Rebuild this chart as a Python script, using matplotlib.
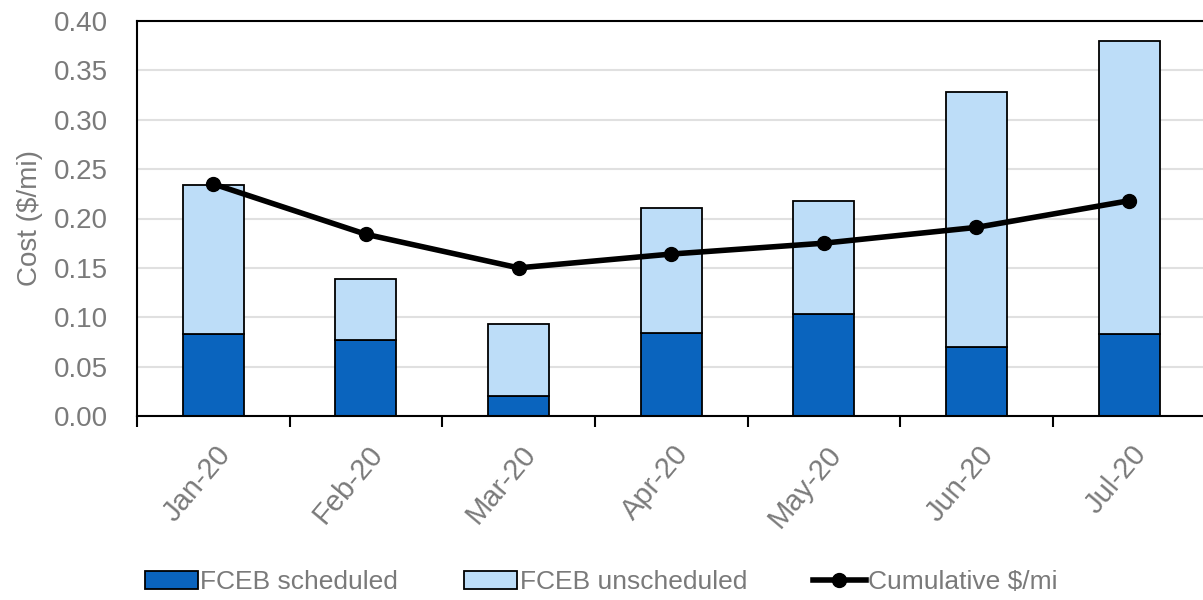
import matplotlib.pyplot as plt
import matplotlib.transforms as mtransforms
import numpy as np

plt.rcParams['font.family'] = ['Liberation Sans', 'DejaVu Sans']

# data
months = ['Jan-20', 'Feb-20', 'Mar-20', 'Apr-20', 'May-20', 'Jun-20', 'Jul-20']
scheduled = [0.083, 0.077, 0.020, 0.084, 0.103, 0.070, 0.083]
total = [0.234, 0.139, 0.093, 0.211, 0.218, 0.328, 0.380]
cumulative = [0.235, 0.184, 0.150, 0.164, 0.175, 0.191, 0.218]

unscheduled = [t - s for t, s in zip(total, scheduled)]
x = np.arange(len(months))
grey = '#7a7a7a'

fig = plt.figure(figsize=(12.03, 6), dpi=100)
ax = fig.add_axes([137 / 1203, 184 / 600, 1 - 137 / 1203 + 0.002, 395 / 600])

b1 = ax.bar(x, scheduled, width=0.4, color='#0A64BE', edgecolor='black', linewidth=1.3,
            label='FCEB scheduled', zorder=2)
b2 = ax.bar(x, unscheduled, width=0.4, bottom=scheduled, color='#BDDDF8', edgecolor='black',
            linewidth=1.3, label='FCEB unscheduled', zorder=2)
ln, = ax.plot(x, cumulative, color='black', linewidth=4, marker='o', markersize=10,
              label='Cumulative $/mi', zorder=3)

ax.set_xlim(-0.5, len(months) - 0.5)
ax.set_ylim(0, 0.40)
ax.set_yticks(np.arange(0, 0.401, 0.05))
ax.set_yticklabels([f'{v:.2f}' for v in np.arange(0, 0.401, 0.05)])
ax.yaxis.grid(True, color='#e0e0e0', linewidth=1.5, zorder=0)
ax.set_axisbelow(True)

# category labels at centres, tick marks at boundaries
ax.set_xticks(x)
ax.set_xticklabels(months, rotation=50, ha='right', va='center', rotation_mode='anchor')
ax.set_xticks(np.arange(-0.5, len(months)), minor=True)
ax.tick_params(axis='x', which='major', length=0, pad=24, labelsize=21, labelcolor=grey)
ax.tick_params(axis='x', which='minor', length=8, width=1.5, color='black')
ax.tick_params(axis='y', length=0, pad=21, labelsize=20, labelcolor=grey)

# nudge rotated labels to the right like the original
shift = mtransforms.ScaledTranslation(12 / 100, 0, fig.dpi_scale_trans)
for lbl in ax.get_xticklabels():
    lbl.set_transform(lbl.get_transform() + shift)

for side in ['left', 'top', 'bottom']:
    ax.spines[side].set_linewidth(1.5)
ax.spines['right'].set_visible(False)

ax.set_ylabel('Cost ($/mi)', fontsize=20, color=grey, labelpad=8)

fig.legend([b1, b2, ln], ['FCEB scheduled', 'FCEB unscheduled', 'Cumulative $/mi'],
           loc='lower center', bbox_to_anchor=(0.5, -0.03), ncol=3, frameon=False,
           fontsize=19, labelcolor=grey, handlelength=2.0, handletextpad=0.1,
           columnspacing=2.5)

fig.savefig('out.png', dpi=100)
